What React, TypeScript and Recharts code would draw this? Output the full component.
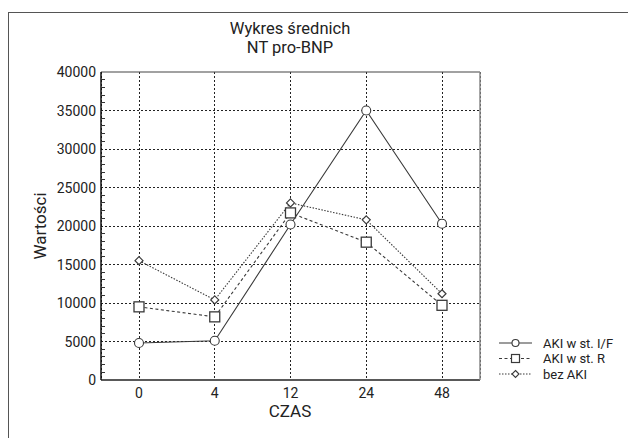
import { LineChart, Line, XAxis, YAxis, CartesianGrid, ReferenceLine } from 'recharts';

// CZAS (time points)
const czas = ['0', '4', '12', '24', '48'];
// NT pro-BNP means per group
const akiIF = [4800, 5100, 20200, 35000, 20300];
const akiR = [9500, 8200, 21700, 17900, 9700];
const bezAki = [15500, 10400, 23000, 20800, 11200];

const majorTicks = [0, 5000, 10000, 15000, 20000, 25000, 30000, 35000, 40000];
const minorTicks = Array.from({ length: 41 }, (_, i) => i * 1000);

const data = czas.map((c, i) => ({ czas: c, akiIF: akiIF[i], akiR: akiR[i], bezAki: bezAki[i] }));

const FONT = 'Roboto, sans-serif';
const INK = '#3a3a3a';
const GRID = '#222';

function LeftTick(props: any) {
  const { x, y, payload } = props;
  const major = payload.value % 5000 === 0;
  return (
    <g>
      {!major && (
        <line x1={x} x2={x + 4} y1={y} y2={y} stroke="#333" strokeWidth={1} shapeRendering="crispEdges" />
      )}
      {major && (
        <text x={x - 5} y={y} dy={5} textAnchor="end" fontSize={14} fontFamily={FONT} fill="#222">
          {payload.value}
        </text>
      )}
    </g>
  );
}

function RightTick(props: any) {
  const { x, y } = props;
  return <line x1={x} x2={x - 4} y1={y} y2={y} stroke="#777" strokeWidth={1} shapeRendering="crispEdges" />;
}

function CircleDot(props: any) {
  const { cx, cy, index } = props;
  return <circle key={index} cx={cx} cy={cy} r={4.5} fill="#fff" stroke={INK} strokeWidth={1.1} />;
}

function SquareDot(props: any) {
  const { cx, cy, index } = props;
  return <rect key={index} x={cx - 5} y={cy - 5} width={10} height={10} fill="#fff" stroke={INK} strokeWidth={1.3} />;
}

function DiamondDot(props: any) {
  const { cx, cy, index } = props;
  const r = 4;
  return (
    <polygon
      key={index}
      points={`${cx},${cy - r} ${cx + r},${cy} ${cx},${cy + r} ${cx - r},${cy}`}
      fill="#fff"
      stroke={INK}
      strokeWidth={1.2}
    />
  );
}

const legendRows = [
  { label: 'AKI w st. I/F', dash: undefined, mark: 'circle' },
  { label: 'AKI w st. R', dash: '3 2.5', mark: 'square' },
  { label: 'bez AKI', dash: '1.5 1.5', mark: 'diamond' },
];

export default function App() {
  return (
    <div style={{ position: 'relative', width: 628, height: 430, fontFamily: FONT }}>
      <div
        style={{
          position: 'absolute',
          top: 4,
          left: 0,
          right: 0,
          bottom: 0,
          borderTop: '1.5px solid #555',
          borderLeft: '1.5px solid #555',
        }}
      />
      <LineChart
        width={628}
        height={430}
        data={data}
        margin={{ top: 64, right: 146, left: 33, bottom: 8 }}
        style={{ position: 'absolute', top: 0, left: 0 }}
      >
        <CartesianGrid horizontal={false} stroke={GRID} strokeDasharray="2 2" shapeRendering="crispEdges" />
        {majorTicks.slice(1, -1).map(v => (
          <ReferenceLine key={v} y={v} stroke={GRID} strokeDasharray="2 2" shapeRendering="crispEdges" />
        ))}
        <ReferenceLine y={40000} stroke="#444" strokeWidth={1.2} />
        <XAxis
          dataKey="czas"
          height={50}
          padding={{ left: 38, right: 38 }}
          axisLine={{ stroke: '#222', strokeWidth: 1.5 }}
          tickLine={false}
          tick={{ fontSize: 14, fontFamily: FONT, fill: '#222' }}
          tickMargin={2}
        />
        <YAxis
          width={60}
          domain={[0, 40000]}
          ticks={minorTicks}
          interval={0}
          tickSize={0}
          tickMargin={0}
          axisLine={{ stroke: '#111', strokeWidth: 1.5 }}
          tickLine={false}
          tick={<LeftTick />}
          allowDataOverflow
        />
        <YAxis
          yAxisId="r"
          orientation="right"
          width={10}
          domain={[0, 40000]}
          ticks={minorTicks}
          interval={0}
          tickSize={0}
          tickMargin={0}
          axisLine={{ stroke: '#888', strokeWidth: 1.5 }}
          tickLine={false}
          tick={<RightTick />}
        />
        <Line
          dataKey="akiIF"
          stroke={INK}
          strokeWidth={1.1}
          dot={CircleDot}
          activeDot={false}
          isAnimationActive={false}
        />
        <Line
          dataKey="akiR"
          stroke={INK}
          strokeWidth={1.1}
          strokeDasharray="3 2.5"
          dot={SquareDot}
          activeDot={false}
          isAnimationActive={false}
        />
        <Line
          dataKey="bezAki"
          stroke={INK}
          strokeWidth={1.1}
          strokeDasharray="1.5 1.5"
          dot={DiamondDot}
          activeDot={false}
          isAnimationActive={false}
        />
      </LineChart>
      <svg
        width={628}
        height={430}
        style={{ position: 'absolute', top: 0, left: 0, pointerEvents: 'none' }}
      >
        <text x={282} y={26} textAnchor="middle" fontSize={16.5} fill="#222" fontFamily={FONT}>
          Wykres średnich
        </text>
        <text x={282} y={45} textAnchor="middle" fontSize={16.5} fill="#222" fontFamily={FONT}>
          NT pro-BNP
        </text>
        <text
          transform="translate(38,218) rotate(-90)"
          textAnchor="middle"
          fontSize={17}
          fill="#222"
          fontFamily={FONT}
        >
          Wartości
        </text>
        <text x={282} y={409} textAnchor="middle" fontSize={17} fill="#222" fontFamily={FONT}>
          CZAS
        </text>
        {legendRows.map((r, i) => {
          const y = 335 + i * 15.5;
          const mx = 507.5;
          return (
            <g key={r.label}>
              <line x1={491} x2={524} y1={y} y2={y} stroke={INK} strokeWidth={1.1} strokeDasharray={r.dash} />
              {r.mark === 'circle' && <circle cx={mx} cy={y} r={3.5} fill="#fff" stroke={INK} strokeWidth={1.1} />}
              {r.mark === 'square' && (
                <rect x={mx - 4} y={y - 4} width={8} height={8} fill="#fff" stroke={INK} strokeWidth={1.2} />
              )}
              {r.mark === 'diamond' && (
                <polygon
                  points={`${mx},${y - 3.5} ${mx + 3.5},${y} ${mx},${y + 3.5} ${mx - 3.5},${y}`}
                  fill="#fff"
                  stroke={INK}
                  strokeWidth={1.1}
                />
              )}
              <text x={535} y={y + 4.5} fontSize={13} fill="#222" fontFamily={FONT}>
                {r.label}
              </text>
            </g>
          );
        })}
      </svg>
    </div>
  );
}
